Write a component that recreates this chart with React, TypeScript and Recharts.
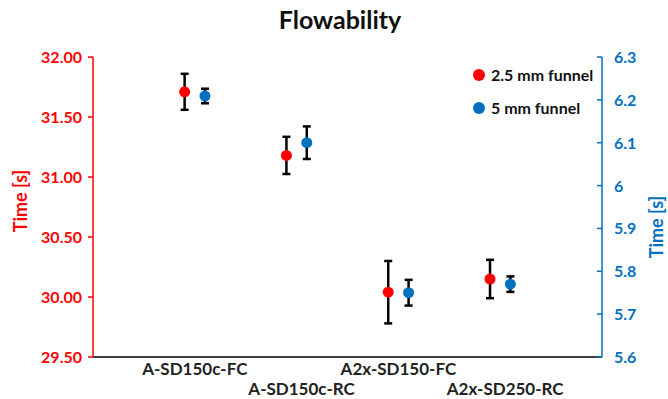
import { ScatterChart, Scatter, XAxis, YAxis, ErrorBar } from 'recharts';

const categories = ['A-SD150c-FC', 'A-SD150c-RC', 'A2x-SD150-FC', 'A2x-SD250-RC'];
const funnel25 = [31.71, 31.18, 30.04, 30.15];
const funnel25Err = [0.15, 0.155, 0.26, 0.16];
const funnel5 = [6.209, 6.1, 5.75, 5.77];
const funnel5Err = [0.017, 0.038, 0.03, 0.018];
const leftTicks = [29.5, 30, 30.5, 31, 31.5, 32];
const rightTicks = [5.6, 5.7, 5.8, 5.9, 6, 6.1, 6.2, 6.3];

const RED = '#FF0000';
const BLUE = '#0070C0';
const FONT = 'Lato, "Open Sans", sans-serif';

// dots sit either side of the category slot
const redData = funnel25.map((v, i) => ({ x: i + 1 - 0.1, y: v, err: funnel25Err[i] }));
const blueData = funnel5.map((v, i) => ({ x: i + 1 + 0.1, y: v, err: funnel5Err[i] }));

const Dot = (color: string) => (props: any) => (
  <circle cx={props.cx} cy={props.cy} r={5.5} fill={color} />
);

const CategoryTick = (props: any) => {
  const { x, payload, index } = props;
  const y = index % 2 === 0 ? 375 : 395;
  return (
    <text x={x + (index % 2 === 0 ? 0 : 5)} y={y} textAnchor="middle" fontFamily={FONT} fontWeight="bold" fontSize={17} fill="#222">
      {categories[payload.value - 1]}
    </text>
  );
};

const RightTick = (props: any) => {
  const { x, y, payload } = props;
  const label = payload.value === 6 ? '6' : payload.value.toFixed(1);
  return (
    <g>
      <line x1={x - 10} y1={y} x2={x - 5} y2={y} stroke={BLUE} strokeWidth={1.5} />
      <text x={x + 7} y={y + 6} textAnchor="start" fontFamily={FONT} fontWeight="bold" fontSize={16} fill={BLUE}>
        {label}
      </text>
    </g>
  );
};

const legendRow = { display: 'flex', alignItems: 'center', height: 33 } as const;

export default function App() {
  return (
    <div style={{ position: 'absolute', left: 0, top: 0, width: 668, height: 399, background: '#fff', overflow: 'hidden' }}>
      <div
        style={{
          position: 'absolute', top: 4, left: 0, width: 680, textAlign: 'center',
          fontFamily: FONT, fontWeight: 'bold', fontSize: 25, color: '#111',
        }}
      >
        Flowability
      </div>
      <div
        style={{
          position: 'absolute', top: 58, left: 473, fontFamily: FONT, fontWeight: 'bold', fontSize: 16, color: '#111',
        }}
      >
        <div style={legendRow}>
          <span style={{ width: 12, height: 12, borderRadius: 6, background: RED, marginRight: 6 }} />
          2.5 mm funnel
        </div>
        <div style={legendRow}>
          <span style={{ width: 12, height: 12, borderRadius: 6, background: BLUE, marginRight: 6 }} />
          5 mm funnel
        </div>
      </div>
      <ScatterChart width={668} height={399} margin={{ top: 57, right: 0, bottom: 0, left: 0 }}>
        <XAxis
          type="number"
          dataKey="x"
          domain={[0, 5]}
          ticks={[1, 2, 3, 4]}
          tickLine={false}
          axisLine={{ stroke: '#000', strokeWidth: 1.5 }}
          tick={<CategoryTick />}
          height={42}
          interval={0}
        />
        <YAxis
          yAxisId="left"
          type="number"
          dataKey="y"
          domain={[29.5, 32]}
          ticks={leftTicks}
          width={93}
          axisLine={{ stroke: RED, strokeWidth: 1.5 }}
          tickLine={{ stroke: RED, strokeWidth: 1.5 }}
          tickSize={5}
          tickMargin={6}
          tick={{ fill: RED, fontFamily: FONT, fontWeight: 'bold', fontSize: 16 }}
          tickFormatter={(v: number) => v.toFixed(2)}
          label={{
            content: () => (
              <text
                x={20}
                y={201}
                transform="rotate(-90, 20, 201)"
                textAnchor="middle"
                dominantBaseline="central"
                fontFamily={FONT}
                fontWeight="bold"
                fontSize={18}
                fill={RED}
              >
                Time [s]
              </text>
            ),
          }}
        />
        <YAxis
          yAxisId="right"
          orientation="right"
          type="number"
          dataKey="y"
          domain={[5.6, 6.3]}
          ticks={rightTicks}
          width={66}
          axisLine={{ stroke: BLUE, strokeWidth: 1.5 }}
          tickLine={false}
          tickSize={0}
          tickMargin={5}
          tick={<RightTick />}
          label={{
            content: () => (
              <text
                x={656}
                y={227}
                transform="rotate(-90, 656, 227)"
                textAnchor="middle"
                dominantBaseline="central"
                fontFamily={FONT}
                fontWeight="bold"
                fontSize={18}
                fill={BLUE}
              >
                Time [s]
              </text>
            ),
          }}
        />
        <Scatter name="2.5 mm funnel" data={redData} yAxisId="left" shape={Dot(RED)} isAnimationActive={false}>
          <ErrorBar dataKey="err" direction="y" width={4} stroke="#000" strokeWidth={2.5} />
        </Scatter>
        <Scatter name="5 mm funnel" data={blueData} yAxisId="right" shape={Dot(BLUE)} isAnimationActive={false}>
          <ErrorBar dataKey="err" direction="y" width={4} stroke="#000" strokeWidth={2.5} />
        </Scatter>
      </ScatterChart>
    </div>
  );
}
